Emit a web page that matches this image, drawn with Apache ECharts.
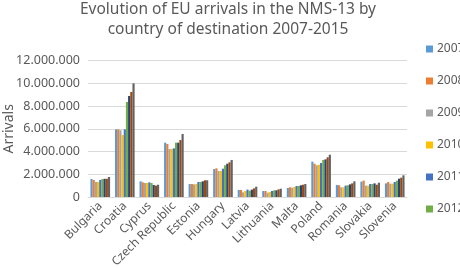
<!DOCTYPE html>
<html lang="en">
<head>
  <meta charset="UTF-8">
  <title>EU arrivals NMS-13</title>
  <style>
    html, body { margin: 0; padding: 0; background: #fff; }
    #chart { width: 460px; height: 268px; }
  </style>
  <script src="https://cdn.jsdelivr.net/npm/echarts@6.0.0/dist/echarts.min.js"></script>
</head>
<body>
  <div id="chart"></div>
  <script>
    const countries = ['Bulgaria', 'Croatia', 'Cyprus', 'Czech Republic', 'Estonia', 'Hungary', 'Latvia',
      'Lithuania', 'Malta', 'Poland', 'Romania', 'Slovakia', 'Slovenia'];
    const years = ['2007', '2008', '2009', '2010', '2011', '2012', '2013', '2014', '2015'];
    const legendYears = ['2007', '2008', '2009', '2010', '2011', '2012'];
    const colors = ['#5b9bd5', '#ed7d31', '#a5a5a5', '#ffc000', '#4472c4', '#70ad47', '#264478', '#9e480e', '#636363'];

    // arrivals per year, one value per country (millions)
    const v2007 = [1.58, 5.95, 1.38, 4.78, 1.14, 2.46, 0.62, 0.53, 0.79, 3.11, 1.06, 1.35, 1.20];
    const v2008 = [1.50, 5.95, 1.29, 4.66, 1.14, 2.52, 0.62, 0.53, 0.85, 2.93, 1.03, 1.44, 1.32];
    const v2009 = [1.32, 5.87, 1.23, 4.22, 1.11, 2.29, 0.41, 0.38, 0.82, 2.79, 0.85, 1.00, 1.17];
    const v2010 = [1.32, 5.45, 1.23, 4.22, 1.14, 2.29, 0.53, 0.44, 0.88, 2.84, 0.85, 1.00, 1.17];
    const v2011 = [1.50, 5.95, 1.29, 4.28, 1.32, 2.49, 0.65, 0.53, 0.97, 2.99, 1.00, 1.14, 1.32];
    const v2012 = [1.58, 8.36, 1.23, 4.78, 1.32, 2.79, 0.56, 0.59, 0.97, 3.26, 1.03, 1.14, 1.44];
    const v2013 = [1.60, 8.89, 1.06, 4.78, 1.38, 2.93, 0.65, 0.59, 1.03, 3.31, 1.11, 1.20, 1.61];
    const v2014 = [1.60, 9.24, 1.00, 5.01, 1.47, 3.05, 0.76, 0.67, 1.08, 3.49, 1.20, 1.08, 1.70];
    const v2015 = [1.76, 10.00, 1.08, 5.54, 1.47, 3.26, 0.91, 0.73, 1.14, 3.72, 1.38, 1.26, 1.91];
    const values = [v2007, v2008, v2009, v2010, v2011, v2012, v2013, v2014, v2015];

    function fmt(n) {
      return String(Math.round(n)).replace(/\B(?=(\d{3})+(?!\d))/g, '.');
    }

    const chart = echarts.init(document.getElementById('chart'));
    const font = 'Noto Sans';

    chart.setOption({
      animation: false,
      color: colors,
      textStyle: { fontFamily: font },
      title: {
        text: 'Evolution of EU arrivals in the NMS-13 by\ncountry of destination 2007-2015',
        left: 228,
        top: 0,
        padding: 0,
        textAlign: 'center',
        textStyle: { fontSize: 15.5, fontWeight: 'normal', color: '#595959', lineHeight: 20, fontFamily: font }
      },
      legend: {
        data: legendYears,
        orient: 'vertical',
        left: 421,
        top: 38,
        itemWidth: 7,
        itemHeight: 7,
        itemGap: 20,
        icon: 'rect',
        textStyle: { fontSize: 12, color: '#595959', padding: [0, 0, 0, -1] }
      },
      grid: { left: 88, right: 53, top: 60.6, bottom: 71, outerBoundsMode: 'none' },
      xAxis: {
        type: 'category',
        data: countries,
        axisLine: { lineStyle: { color: '#d9d9d9' } },
        axisTick: { show: false },
        axisLabel: { rotate: 45, interval: 0, fontSize: 12, color: '#595959', margin: 7 }
      },
      yAxis: {
        type: 'value',
        min: 0,
        max: 12000000,
        interval: 2000000,
        name: 'Arrivals',
        nameLocation: 'middle',
        nameGap: 72,
        nameMoveOverlap: false,
        nameTextStyle: { fontSize: 14, color: '#595959' },
        axisLine: { show: false },
        axisTick: { show: false },
        axisLabel: { fontSize: 12.5, color: '#595959', margin: 8, formatter: fmt },
        splitLine: { lineStyle: { color: '#d9d9d9' } }
      },
      series: years.map((y, i) => ({
        name: y,
        type: 'bar',
        barGap: '0%',
        barCategoryGap: '20%',
        data: values[i].map(v => v * 1000000)
      }))
    });
  </script>
</body>
</html>
